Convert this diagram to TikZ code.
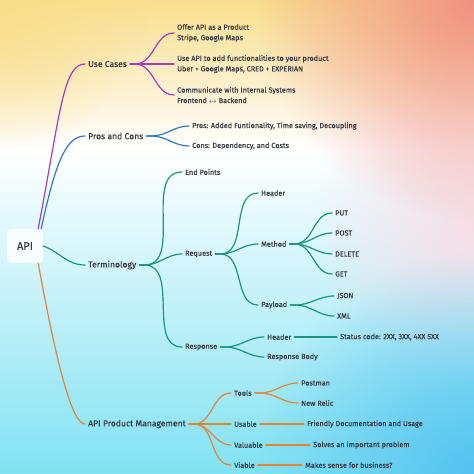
\documentclass[tikz,border=0pt]{standalone}
\usepackage{fontspec}
\setmainfont{Fira Sans}[FakeBold=0.3]
\usetikzlibrary{fadings}

\definecolor{ink}{RGB}{56,58,68}
\definecolor{ucpurple}{RGB}{168,58,196}
\definecolor{pcblue}{RGB}{52,120,196}
\definecolor{tmgreen}{RGB}{24,150,128}
\definecolor{pmorange}{RGB}{228,132,58}
\definecolor{bgyellow}{RGB}{248,222,140}
\definecolor{bgsalmon}{RGB}{240,145,132}
\definecolor{bgpink}{RGB}{248,222,230}
\definecolor{bgcyan}{RGB}{128,226,242}
\definecolor{bgblue}{RGB}{85,195,240}

\tikzfading[name=glow,inner color=transparent!0,outer color=transparent!100]

\tikzset{
  topic/.style={anchor=west,inner xsep=3pt,inner ysep=1pt,text=ink,font=\fontsize{8.6}{10}\selectfont},
  leaf/.style={anchor=west,inner xsep=3pt,inner ysep=1pt,text=ink,align=left,font=\fontsize{7.3}{10.5}\selectfont},
  twig/.style={out=0,in=180},
  limb/.style={line width=1.2pt,line cap=round},
}

\begin{document}
\begin{tikzpicture}[x=1pt,y=1pt]
  \useasboundingbox (0,0) rectangle (474,474);
  \shade[top color=bgyellow,bottom color=white] (0,324) rectangle (474,474);
  \shade[top color=white,bottom color=bgcyan] (0,0) rectangle (474,324);
  \fill[bgpink,path fading=glow] (474,250) circle (160);
  \fill[bgsalmon,path fading=glow] (474,474) circle (220);
  \fill[bgyellow,path fading=glow] (0,474) circle (150);
  \fill[bgblue,path fading=glow] (474,0) circle (220);

  \node[fill=white,fill opacity=0.8,text opacity=1,rounded corners=4pt,minimum width=36,minimum height=34,text=ink,font=\fontsize{11}{12}\selectfont] (api) at (25,228) {API};

  \node[topic] (usecases) at (85,410) {Use Cases};
  \node[topic] (proscons) at (85,338) {Pros and Cons};
  \node[topic] (termin) at (85,209) {Terminology};
  \node[topic] (apm) at (85,50) {API Product Management};

  \node[leaf] (offer) at (174,441) {Offer API as a Product\\Stripe, Google Maps};
  \node[leaf] (useapi) at (174,410) {Use API to add functionalities to your product\\Uber + Google Maps, CRED + EXPERIAN};
  \node[leaf] (internal) at (174,379) {Communicate with Internal Systems\\Frontend $\leftrightarrow$ Backend};

  \node[leaf] (pros) at (189,348) {Pros: Added Funtionality, Time saving, Decoupling};
  \node[leaf] (cons) at (189,328) {Cons: Dependency, and Costs};

  \node[leaf] (endpts) at (182,302) {End Points};
  \node[leaf] (request) at (182,220) {Request};
  \node[leaf] (response) at (182,127) {Response};

  \node[leaf] (rqheader) at (258,281) {Header};
  \node[leaf] (method) at (258,230) {Method};
  \node[leaf] (payload) at (258,169) {Payload};

  \node[leaf] (put) at (332,261) {PUT};
  \node[leaf] (post) at (332,241) {POST};
  \node[leaf] (delete) at (332,220) {DELETE};
  \node[leaf] (get) at (332,200) {GET};
  \node[leaf] (json) at (334,178) {JSON};
  \node[leaf] (xml) at (334,158) {XML};

  \node[leaf] (rsheader) at (264,137) {Header};
  \node[leaf] (rsbody) at (264,117) {Response Body};
  \node[leaf] (status) at (337,137) {Status code: 2XX, 3XX, 4XX 5XX};

  \node[leaf] (tools) at (231,81) {Tools};
  \node[leaf] (usable) at (231,50) {Usable};
  \node[leaf] (valuable) at (231,29) {Valuable};
  \node[leaf] (viable) at (231,9) {Viable};
  \node[leaf] (postman) at (298,91) {Postman};
  \node[leaf] (newrelic) at (298,71) {New Relic};
  \node[leaf] (friendly) at (304,50) {Friendly Documentation and Usage};
  \node[leaf] (solves) at (310,29) {Solves an important problem};
  \node[leaf] (makes) at (302,9) {Makes sense for business?};

  \draw[limb,ucpurple] ([xshift=-5pt]api.north east) .. controls +(22,115) and +(-22,0) .. (usecases.west);
  \draw[limb,pcblue] ([xshift=-2pt]api.north east) .. controls +(15,70) and +(-18,0) .. (proscons.west);
  \draw[limb,tmgreen] (api.east) to[out=-20,in=180] (termin.west);
  \draw[limb,pmorange] ([xshift=-5pt]api.south east) .. controls +(20,-110) and +(-12,0) .. (apm.west);

  \foreach \kid in {offer,useapi,internal}
    \draw[limb,ucpurple] (usecases.east) -- ++(5,0) to[twig] (\kid.west);
  \foreach \kid in {pros,cons}
    \draw[limb,pcblue] (proscons.east) -- ++(5,0) to[twig] (\kid.west);
  \foreach \kid in {endpts,request,response}
    \draw[limb,tmgreen] (termin.east) -- ++(5,0) to[twig] (\kid.west);
  \foreach \kid in {rqheader,method,payload}
    \draw[limb,tmgreen] (request.east) -- ++(5,0) to[twig] (\kid.west);
  \foreach \kid in {put,post,delete,get}
    \draw[limb,tmgreen] (method.east) -- ++(5,0) to[twig] (\kid.west);
  \foreach \kid in {json,xml}
    \draw[limb,tmgreen] (payload.east) -- ++(5,0) to[twig] (\kid.west);
  \foreach \kid in {rsheader,rsbody}
    \draw[limb,tmgreen] (response.east) -- ++(5,0) to[twig] (\kid.west);
  \draw[limb,tmgreen] (rsheader.east) -- (status.west);
  \foreach \kid in {tools,usable,valuable,viable}
    \draw[limb,pmorange] (apm.east) -- ++(5,0) to[twig] (\kid.west);
  \foreach \kid in {postman,newrelic}
    \draw[limb,pmorange] (tools.east) -- ++(5,0) to[twig] (\kid.west);
  \draw[limb,pmorange] (usable.east) -- (friendly.west);
  \draw[limb,pmorange] (valuable.east) -- (solves.west);
  \draw[limb,pmorange] (viable.east) -- (makes.west);
\end{tikzpicture}
\end{document}
